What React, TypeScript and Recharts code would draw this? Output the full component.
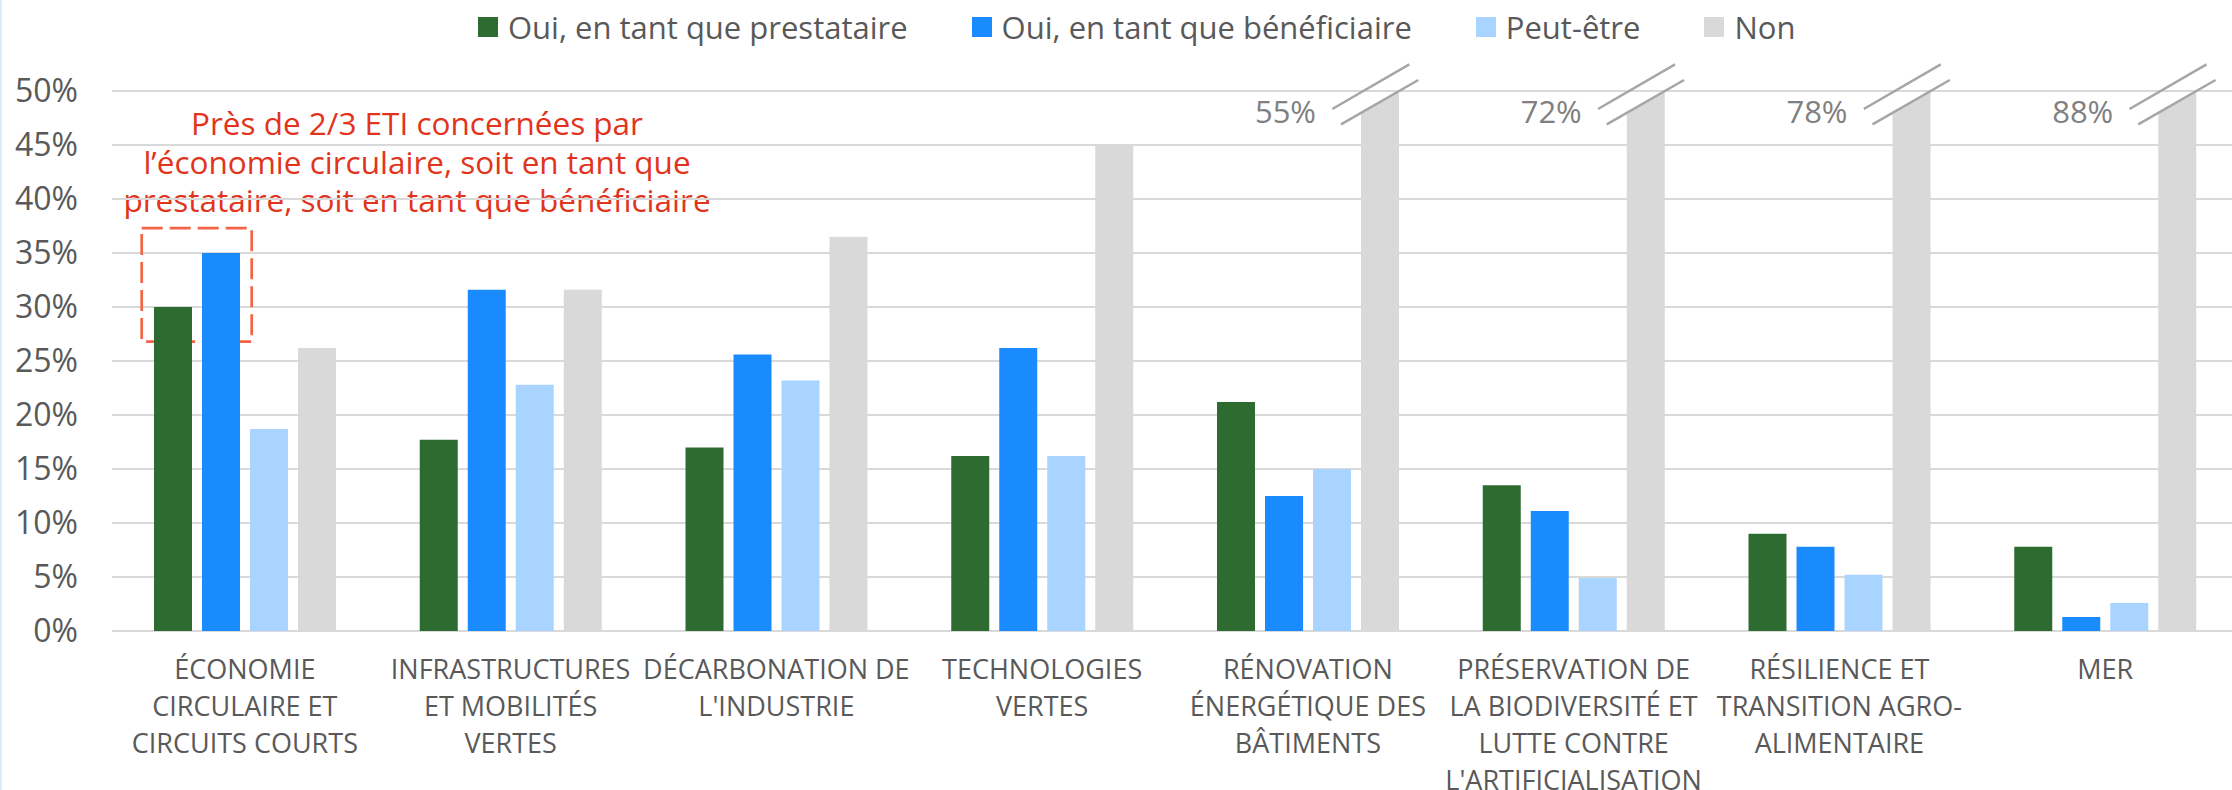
import { Bar, BarChart, CartesianGrid, ReferenceArea, XAxis, YAxis } from "recharts";

const CATEGORIES = [
  "ÉCONOMIE\nCIRCULAIRE ET\nCIRCUITS COURTS",
  "INFRASTRUCTURES\nET MOBILITÉS\nVERTES",
  "DÉCARBONATION DE\nL'INDUSTRIE",
  "TECHNOLOGIES\nVERTES",
  "RÉNOVATION\nÉNERGÉTIQUE DES\nBÂTIMENTS",
  "PRÉSERVATION DE\nLA BIODIVERSITÉ ET\nLUTTE CONTRE\nL'ARTIFICIALISATION",
  "RÉSILIENCE ET\nTRANSITION AGRO-\nALIMENTAIRE",
  "MER",
];

const PRESTATAIRE = [30, 17.7, 17, 16.2, 21.2, 13.5, 9, 7.8];
const BENEFICIAIRE = [35, 31.6, 25.6, 26.2, 12.5, 11.1, 7.8, 1.3];
const PEUT_ETRE = [18.7, 22.8, 23.2, 16.2, 15, 4.9, 5.2, 2.6];
const NON = [26.2, 31.6, 36.5, 45, 55, 72, 78, 88];

const Y_TICKS = [0, 5, 10, 15, 20, 25, 30, 35, 40, 45, 50];
const Y_MAX = 50;

const SERIES = [
  { key: "prestataire", name: "Oui, en tant que prestataire", color: "#2e6b31" },
  { key: "beneficiaire", name: "Oui, en tant que bénéficiaire", color: "#1a8bff" },
  { key: "peutEtre", name: "Peut-être", color: "#a9d4ff" },
  { key: "non", name: "Non", color: "#d9d9d9" },
];

const NOTE = [
  "Près de 2/3 ETI concernées par",
  "l’économie circulaire, soit en tant que",
  "prestataire, soit en tant que bénéficiaire",
];

const FONT = "'Open Sans', sans-serif";
const TEXT = "#595959";

const rows = CATEGORIES.map((name, i) => ({
  name,
  prestataire: PRESTATAIRE[i],
  beneficiaire: BENEFICIAIRE[i],
  peutEtre: PEUT_ETRE[i],
  non: NON[i],
}));

// bars above the axis max are cut with a break mark and get their real value written beside
const NonBar = (props: any) => {
  const { x, y, width, height, fill, payload } = props;
  if (payload.non <= Y_MAX) {
    return <rect x={x} y={y} width={width} height={height} fill={fill} />;
  }
  const s = 0.573;
  const bottom = y + height;
  const poly = `${x},${y + width * s} ${x + width},${y} ${x + width},${bottom} ${x},${bottom}`;
  return (
    <g>
      <polygon points={poly} fill={fill} />
      <line x1={x - 28.7} y1={y + 18} x2={x + width + 10.3} y2={y - 26.7} stroke="#a6a6a6" strokeWidth={2.5} />
      <line x1={x - 20} y1={y + 33.3} x2={x + width + 19.3} y2={y - 11} stroke="#a6a6a6" strokeWidth={2.5} />
      <text
        x={x - 45}
        y={y + 20}
        textAnchor="end"
        dominantBaseline="central"
        fill="#808080"
        fontSize={31}
        fontFamily={FONT}
      >
        {`${payload.non}%`}
      </text>
    </g>
  );
};

const CategoryTick = (props: any) => {
  const { x, y, payload } = props;
  const lines = String(payload.value).split("\n");
  return (
    <text x={x} y={y + 35} textAnchor="middle" dominantBaseline="central" fill={TEXT} fontSize={27} fontFamily={FONT}>
      {lines.map((l, i) => (
        <tspan key={i} x={x} dy={i === 0 ? 0 : 37}>
          {l}
        </tspan>
      ))}
    </text>
  );
};

const NoteBox = (props: any) => {
  const { x, y, height } = props;
  return (
    <rect
      x={x + 29.7}
      y={y}
      width={110}
      height={height}
      fill="none"
      stroke="#f26446"
      strokeWidth={2.7}
      strokeDasharray="21 7"
    />
  );
};

export default function App() {
  return (
    <div
      style={{
        position: "absolute",
        left: 0,
        top: 0,
        width: 2232,
        height: 790,
        overflow: "hidden",
        background: "#fff",
        fontFamily: FONT,
        borderLeft: "2px solid #e1ecf9",
        boxSizing: "border-box",
      }}
    >
      <div
        style={{
          position: "absolute",
          left: 476,
          top: 6,
          display: "flex",
          alignItems: "center",
          height: 42,
          whiteSpace: "nowrap",
          color: TEXT,
          fontSize: 31,
        }}
      >
        {SERIES.map((s, i) => (
          <div
            key={s.key}
            style={{ display: "flex", alignItems: "center", marginRight: i < SERIES.length - 1 ? 64 : 0 }}
          >
            <div style={{ width: 20, height: 20, background: s.color, marginRight: 10 }} />
            <span>{s.name}</span>
          </div>
        ))}
      </div>

      <div
        style={{
          position: "absolute",
          left: 415 - 350,
          top: 104,
          width: 700,
          textAlign: "center",
          color: "#e2341d",
          fontSize: 31.5,
          lineHeight: "38.5px",
          whiteSpace: "nowrap",
        }}
      >
        {NOTE.map((l) => (
          <div key={l}>{l}</div>
        ))}
      </div>

      <div style={{ position: "absolute", left: -2, top: 0 }}>
        <BarChart
          width={2242}
          height={790}
          data={rows}
          margin={{ top: 91, right: 4, bottom: 0, left: 0 }}
          barSize={38}
          barGap={10}
        >
          <CartesianGrid vertical={false} stroke="#d9d9d9" strokeWidth={2} />
          <XAxis
            dataKey="name"
            height={159}
            interval={0}
            axisLine={false}
            tickLine={false}
            tickSize={0}
            tick={<CategoryTick />}
          />
          <YAxis
            width={112}
            domain={[0, Y_MAX]}
            ticks={Y_TICKS}
            axisLine={false}
            tickLine={false}
            tickSize={0}
            tickMargin={34}
            tickFormatter={(v: number) => `${v}%`}
            tick={{ fill: TEXT, fontSize: 32, fontFamily: FONT }}
          />
          {SERIES.map((s) =>
            s.key === "non" ? (
              <Bar
                key={s.key}
                dataKey={(d: any) => Math.min(d.non, Y_MAX)}
                name={s.name}
                fill={s.color}
                shape={<NonBar />}
                isAnimationActive={false}
              />
            ) : (
              <Bar key={s.key} dataKey={s.key} name={s.name} fill={s.color} isAnimationActive={false} />
            )
          )}
          <ReferenceArea x1={CATEGORIES[0]} x2={CATEGORIES[0]} y1={26.8} y2={37.3} shape={<NoteBox />} />
        </BarChart>
      </div>
    </div>
  );
}
